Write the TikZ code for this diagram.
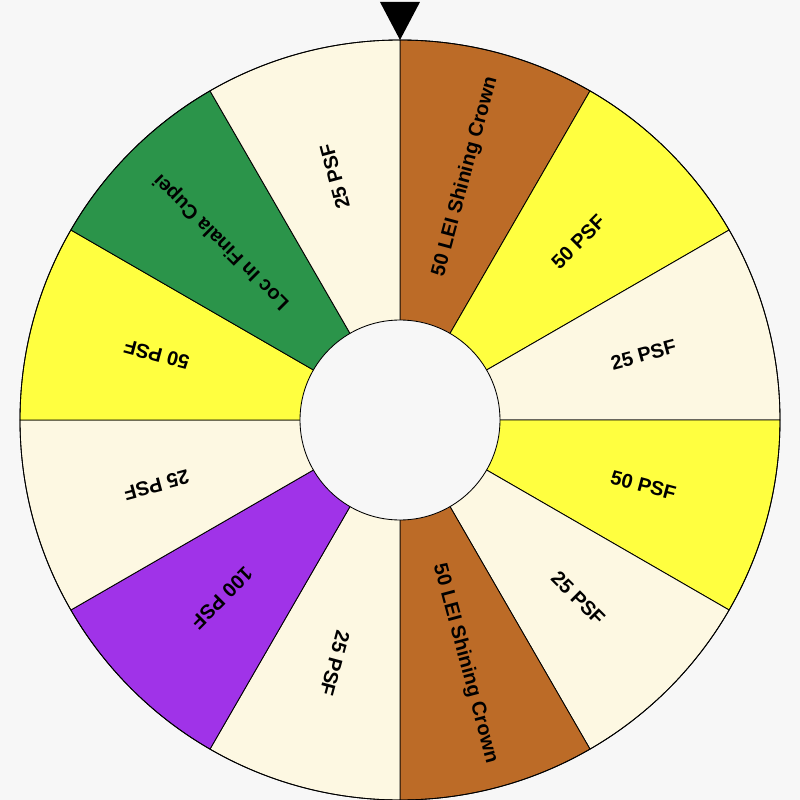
\documentclass[tikz,border=0pt]{standalone}
\usepackage{fontspec}
\setmainfont{Liberation Sans}
\definecolor{bgcol}{HTML}{F7F7F7}
\definecolor{crown}{HTML}{BC6B27}
\definecolor{gold}{HTML}{FFFF40}
\definecolor{cream}{HTML}{FDF8E2}
\definecolor{cup}{HTML}{2B944A}
\definecolor{violet}{HTML}{A033E8}
\tikzset{
  slice/.style={draw=black,line width=0.6pt,line join=round},
  prize/.style={font=\bfseries\fontsize{14.2}{17}\selectfont,text=black,inner sep=0pt}
}

\begin{document}
\begin{tikzpicture}
\useasboundingbox[fill=bgcol] (-10,-9.5) rectangle (10,10.5);
% slices, clockwise from the top
\foreach \a/\col/\txt in {90/crown/50 LEI Shining Crown, 60/gold/50 PSF,
    30/cream/25 PSF, 0/gold/50 PSF, -30/cream/25 PSF,
    -60/crown/50 LEI Shining Crown, -90/cream/25 PSF, -120/violet/100 PSF,
    -150/cream/25 PSF, -180/gold/50 PSF, -210/cup/Loc In Finala Cupei,
    -240/cream/25 PSF} {
  \filldraw[slice,fill=\col] (0,0) -- (\a:9.5)
    arc[start angle=\a,end angle=\a-30,radius=9.5] -- cycle;
  \node[prize,rotate=\a-15] (prize\a) at ({\a-15}:6.3) {\txt};
}
\draw[slice] (0,0) circle (9.5);
% hub
\filldraw[slice,fill=bgcol] (0,0) circle (2.5);
% pointer
\fill[black] (-0.5,10.45) -- (0.5,10.45) -- (0,9.5) -- cycle;
\end{tikzpicture}
\end{document}
